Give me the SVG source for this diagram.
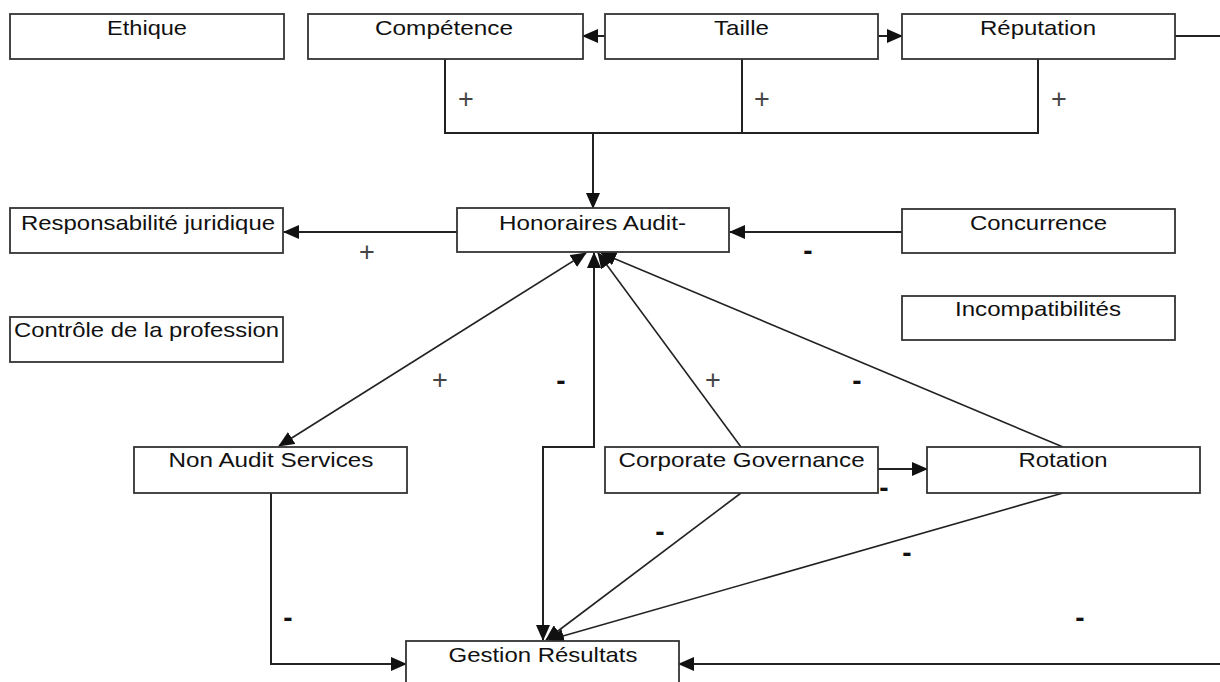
<svg xmlns="http://www.w3.org/2000/svg" width="1220" height="682" viewBox="0 0 1220 682">
<defs>
<marker id="ah" viewBox="0 0 16 14" refX="15" refY="7" markerWidth="16" markerHeight="14" markerUnits="userSpaceOnUse" orient="auto-start-reverse">
<path d="M0,0 L16,7 L0,14 z" fill="#111"/>
</marker>
<style>
.box{fill:#fff;stroke:#333;stroke-width:1.8}
.lbl{font-family:"Liberation Sans",Arial,sans-serif;font-size:21px;fill:#111}
.mid{text-anchor:middle}
.pl{font-family:"Liberation Sans",Arial,sans-serif;font-size:27px;fill:#444;text-anchor:middle}
.mn{font-family:"Liberation Sans",Arial,sans-serif;font-size:28px;font-weight:bold;fill:#111;text-anchor:middle}
.c{fill:none;stroke:#222;stroke-width:2}
.d{fill:none;stroke:#222;stroke-width:1.6}
</style>
</defs>
<rect width="1220" height="682" fill="#fff"/>

<g id="connectors">
<line class="c" x1="605" y1="36" x2="583" y2="36" marker-end="url(#ah)"/>
<line class="c" x1="878" y1="36" x2="902" y2="36" marker-end="url(#ah)"/>
<line class="c" x1="1175" y1="36" x2="1220" y2="36"/>
<path class="c" d="M445,59 V133 H1038 V59 M742,59 V133"/>
<line class="c" x1="593" y1="133" x2="593" y2="208" marker-end="url(#ah)"/>
<line class="c" x1="457" y1="232" x2="284" y2="232" marker-end="url(#ah)"/>
<line class="c" x1="902" y1="232" x2="730" y2="232" marker-end="url(#ah)"/>
<line class="d" x1="279" y1="446" x2="586" y2="253" marker-start="url(#ah)" marker-end="url(#ah)"/>
<path class="c" d="M594,253 V447 H543 V640" marker-start="url(#ah)" marker-end="url(#ah)"/>
<line class="d" x1="741" y1="447" x2="598" y2="253" marker-end="url(#ah)"/>
<line class="d" x1="1063" y1="447" x2="601" y2="253" marker-end="url(#ah)"/>
<line class="c" x1="878" y1="469" x2="927" y2="469" marker-end="url(#ah)"/>
<line class="d" x1="741" y1="493" x2="546" y2="640" marker-end="url(#ah)"/>
<line class="d" x1="1063" y1="493" x2="549" y2="640" marker-end="url(#ah)"/>
<path class="c" d="M271,493 V664 H406" marker-end="url(#ah)"/>
<line class="c" x1="1220" y1="664" x2="679" y2="664" marker-end="url(#ah)"/>
</g>

<g id="signs">
<text class="pl" x="466" y="108">+</text>
<text class="pl" x="762" y="108">+</text>
<text class="pl" x="1059" y="108">+</text>
<text class="pl" x="367" y="261">+</text>
<text class="mn" x="808" y="260">-</text>
<text class="pl" x="440" y="389">+</text>
<text class="mn" x="561" y="390">-</text>
<text class="pl" x="713" y="389">+</text>
<text class="mn" x="857" y="390">-</text>
<text class="mn" x="884" y="497">-</text>
<text class="mn" x="660" y="541">-</text>
<text class="mn" x="907" y="562">-</text>
<text class="mn" x="288" y="627">-</text>
<text class="mn" x="1080" y="627">-</text>
</g>

<g id="ethique"><rect class="box" x="10" y="14" width="274" height="45"/><text class="lbl mid" x="147" y="35" textLength="80" lengthAdjust="spacingAndGlyphs">Ethique</text></g>
<g id="competence"><rect class="box" x="308" y="14" width="275" height="45"/><text class="lbl mid" x="444" y="35" textLength="138" lengthAdjust="spacingAndGlyphs">Compétence</text></g>
<g id="taille"><rect class="box" x="605" y="14" width="273" height="45"/><text class="lbl mid" x="741.5" y="35" textLength="55" lengthAdjust="spacingAndGlyphs">Taille</text></g>
<g id="reputation"><rect class="box" x="902" y="14" width="273" height="45"/><text class="lbl mid" x="1038" y="35" textLength="116" lengthAdjust="spacingAndGlyphs">Réputation</text></g>

<g id="responsabilite"><rect class="box" x="10" y="208" width="273" height="45"/><text class="lbl" x="21" y="230" textLength="254" lengthAdjust="spacingAndGlyphs">Responsabilité juridique</text></g>
<g id="honoraires"><rect class="box" x="457" y="208" width="272" height="44"/><text class="lbl mid" x="592.5" y="230" textLength="187" lengthAdjust="spacingAndGlyphs">Honoraires Audit-</text></g>
<g id="concurrence"><rect class="box" x="902" y="209" width="273" height="44"/><text class="lbl mid" x="1038.5" y="230" textLength="137" lengthAdjust="spacingAndGlyphs">Concurrence</text></g>
<g id="incompatibilites"><rect class="box" x="902" y="296" width="273" height="44"/><text class="lbl mid" x="1038" y="316" textLength="166" lengthAdjust="spacingAndGlyphs">Incompatibilités</text></g>
<g id="controle"><rect class="box" x="10" y="317" width="273" height="45"/><text class="lbl" x="14" y="337" textLength="265" lengthAdjust="spacingAndGlyphs">Contrôle de la profession</text></g>

<g id="nonaudit"><rect class="box" x="134" y="447" width="273" height="46"/><text class="lbl mid" x="271" y="467" textLength="205" lengthAdjust="spacingAndGlyphs">Non Audit Services</text></g>
<g id="governance"><rect class="box" x="605" y="447" width="273" height="46"/><text class="lbl mid" x="741.6" y="467" textLength="246" lengthAdjust="spacingAndGlyphs">Corporate Governance</text></g>
<g id="rotation"><rect class="box" x="927" y="447" width="273" height="46"/><text class="lbl mid" x="1063" y="467" textLength="89" lengthAdjust="spacingAndGlyphs">Rotation</text></g>

<g id="gestion"><rect class="box" x="406" y="641" width="273" height="60"/><text class="lbl mid" x="543" y="662" textLength="189" lengthAdjust="spacingAndGlyphs">Gestion Résultats</text></g>
</svg>
